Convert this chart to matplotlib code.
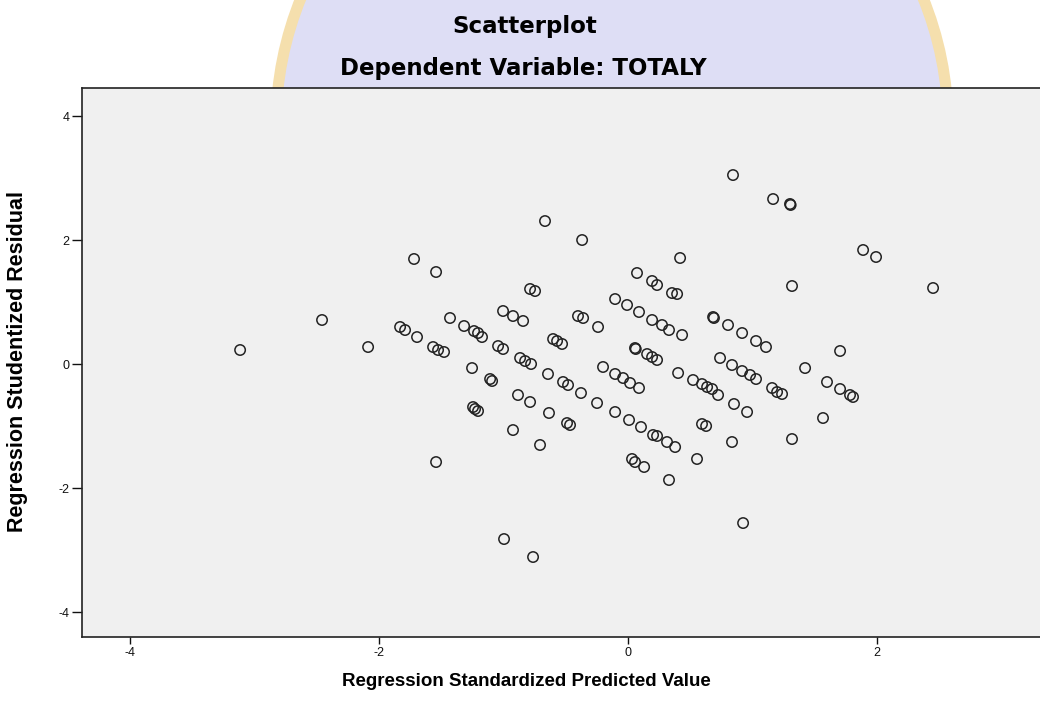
import matplotlib
matplotlib.use('agg')
import matplotlib.pyplot as plt
from matplotlib.patches import Ellipse

plt.rcParams['font.family'] = ['Liberation Sans', 'DejaVu Sans']
plt.rcParams['axes.unicode_minus'] = False

# Regression Standardized Predicted Value
pred = [-3.116, -2.458, -2.088, -1.719, -1.542, -1.542, -1.831, -1.791, -1.695, -1.566,
        -1.526, -1.478, -1.430, -1.317, -1.237, -1.205, -1.173, -1.004, -0.924, -0.843,
        -1.044, -1.004, -0.867, -0.827, -0.779, -1.253, -1.108, -1.092, -1.245, -1.229,
        -1.205, -0.924, -0.707, -0.884, -0.787, -0.996, -0.763, -0.787, -0.747, -0.667,
        -0.369, -0.602, -0.570, -0.530, -0.402, -0.361, -0.241, -0.643, -0.522, -0.482,
        -0.378, -0.249, -0.635, -0.490, -0.466, -0.201, -0.104, -0.040, 0.016, 0.088,
        -0.104, 0.008, 0.104, 0.201, 0.233, 0.313, 0.378, 0.032, 0.056, 0.129,
        0.329, 0.056, 0.153, 0.193, 0.233, -0.104, -0.008, 0.088, 0.193, 0.273,
        0.329, 0.434, 0.072, 0.193, 0.233, 0.353, 0.394, 0.418, 0.843, 1.165,
        1.301, 1.888, 1.992, 2.450, 1.317, 0.683, 0.803, 0.916, 1.028, 1.108,
        0.739, 0.835, 0.916, 0.980, 1.028, 1.157, 1.197, 1.237, 0.594, 0.635,
        0.675, 0.723, 0.402, 0.522, 0.851, 0.956, 0.835, 0.594, 0.627, 0.554,
        1.422, 1.598, 1.703, 1.783, 1.807, 1.703, 1.566, 1.317, 0.924, 0.690,
        0.062, 1.306]

# Regression Studentized Residual
resid = [0.226, 0.710, 0.274, 1.694, 1.484, -1.581, 0.597, 0.548, 0.435, 0.274,
         0.226, 0.194, 0.742, 0.613, 0.532, 0.500, 0.435, 0.855, 0.774, 0.694,
         0.290, 0.242, 0.097, 0.048, 0.000, -0.065, -0.242, -0.274, -0.694, -0.726,
         -0.758, -1.065, -1.306, -0.500, -0.613, -2.823, -3.113, 1.210, 1.177, 2.306,
         2.000, 0.403, 0.371, 0.323, 0.774, 0.742, 0.597, -0.161, -0.290, -0.339,
         -0.468, -0.629, -0.790, -0.952, -0.984, -0.048, -0.161, -0.226, -0.306, -0.387,
         -0.774, -0.903, -1.016, -1.145, -1.161, -1.258, -1.339, -1.532, -1.581, -1.661,
         -1.871, 0.258, 0.161, 0.113, 0.065, 1.048, 0.952, 0.839, 0.710, 0.629,
         0.548, 0.468, 1.468, 1.339, 1.274, 1.145, 1.129, 1.710, 3.048, 2.661,
         2.581, 1.839, 1.726, 1.226, 1.258, 0.758, 0.629, 0.500, 0.371, 0.274,
         0.097, -0.016, -0.113, -0.177, -0.242, -0.387, -0.452, -0.484, -0.323, -0.371,
         -0.403, -0.500, -0.145, -0.258, -0.645, -0.774, -1.258, -0.968, -1.000, -1.532,
         -0.065, -0.290, -0.403, -0.500, -0.532, 0.210, -0.871, -1.210, -2.565, 0.742,
         0.242, 2.565]

xticks = [-4, -2, 0, 2]
yticks = [-4, -2, 0, 2, 4]

fig = plt.figure(figsize=(10.4, 7.07), dpi=100)

# faint watermark behind the title (only shows outside the plot area)
fig.patches.append(Ellipse((612 / 1040, 1 - 125 / 707), 2 * 336 / 1040, 2 * 336 / 707,
                           transform=fig.transFigure, facecolor='#dedef5',
                           edgecolor='#f5dfad', linewidth=8, zorder=-5))

ax = fig.add_axes([82 / 1040, 70 / 707, 963 / 1040, 549 / 707])
ax.set_zorder(2)
ax.set_facecolor('#f0f0f0')

ax.scatter(pred, resid, s=56, facecolors='none', edgecolors='#222222', linewidths=1.1)

ax.set_xticks(xticks)
ax.set_yticks(yticks)
ax.set_xlim(-4.386, 3.349)
ax.set_ylim(-4.403, 4.452)
ax.tick_params(axis='y', direction='out', length=7, width=1, pad=2, labelsize=9, colors='#111111')
ax.tick_params(axis='x', direction='out', length=5, width=1, pad=2, labelsize=9, colors='#111111')
for s in ax.spines.values():
    s.set_color('#222222')
    s.set_linewidth(1.2)

ax.set_xlabel('Regression Standardized Predicted Value', fontsize=13.5, fontweight='bold')
ax.set_ylabel('Regression Studentized Residual', fontsize=15.5, fontweight='bold')
ax.xaxis.set_label_coords((526 - 82) / 963, -(673 - 637) / 549)
ax.yaxis.set_label_coords(-(82 - 28) / 963, (637 - 362) / 549)

fig.text(525 / 1040, 1 - 27 / 707, 'Scatterplot', ha='center', va='center',
         fontsize=16.5, fontweight='bold', family='DejaVu Sans')
fig.text(523 / 1040, 1 - 69 / 707, 'Dependent Variable: TOTALY', ha='center', va='center',
         fontsize=16.5, fontweight='bold', family='DejaVu Sans')

plt.savefig('out.png', dpi=100)
